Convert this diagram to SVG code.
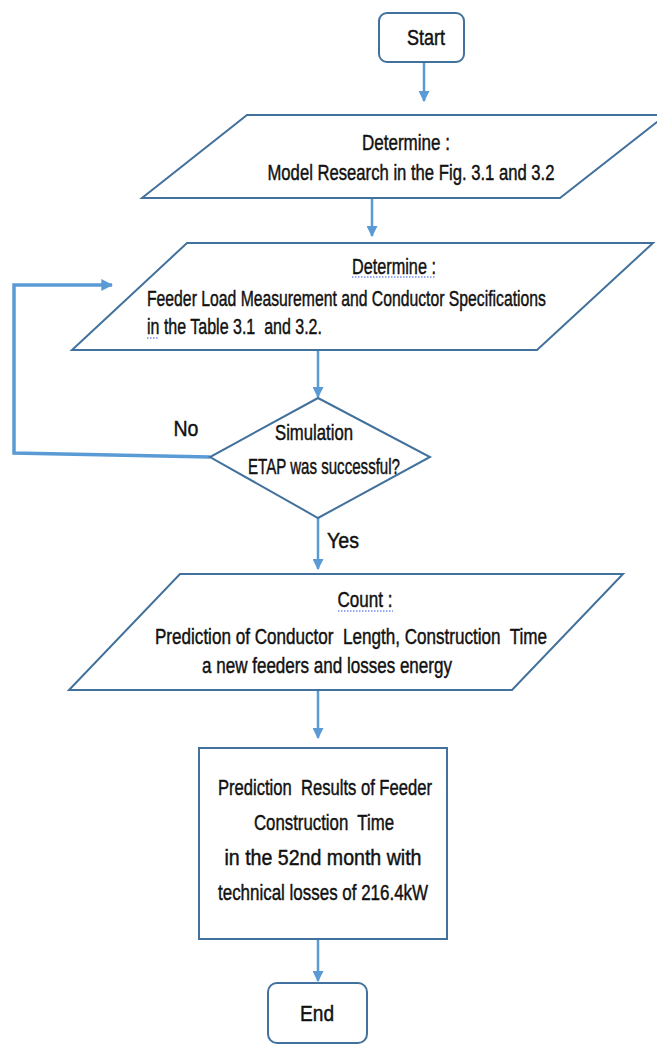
<svg xmlns="http://www.w3.org/2000/svg" width="657" height="1044" viewBox="0 0 657 1044">
<style>
.shape{fill:#fff;stroke:#41719C;stroke-width:2}
.conn{fill:none;stroke:#5B9BD5;stroke-width:2.5}
.loop{fill:none;stroke:#5B9BD5;stroke-width:3.5}
.t{font-family:"Liberation Sans",Arial,sans-serif;font-size:22px;fill:#111;stroke:#111;stroke-width:0.45;text-anchor:middle;dominant-baseline:central;white-space:pre}
.l{text-anchor:start}
.sq{fill:none;stroke:#3355ee;stroke-width:1.2;stroke-dasharray:1.5 1.5}
</style>
<defs>
<marker id="ah" viewBox="0 0 10 10" refX="9" refY="5" markerWidth="4.4" markerHeight="4.4" orient="auto" markerUnits="strokeWidth">
<path d="M0,0 L10,5 L0,10 z" fill="#5B9BD5"/>
</marker>
<marker id="ah2" viewBox="0 0 10 10" refX="9" refY="5" markerWidth="3.4" markerHeight="3.4" orient="auto" markerUnits="strokeWidth">
<path d="M0,0 L10,5 L0,10 z" fill="#5B9BD5"/>
</marker>
</defs>
<rect width="657" height="1044" fill="#fff"/>
<g id="connectors">
<line class="conn" x1="424" y1="62" x2="424" y2="101" marker-end="url(#ah)"/>
<line class="conn" x1="372" y1="199" x2="372" y2="236" marker-end="url(#ah)"/>
<line class="conn" x1="318" y1="351" x2="318" y2="397" marker-end="url(#ah)"/>
<line class="conn" x1="318" y1="518" x2="318" y2="569" marker-end="url(#ah)"/>
<line class="conn" x1="318" y1="691" x2="318" y2="738" marker-end="url(#ah)"/>
<line class="conn" x1="318" y1="940" x2="318" y2="981" marker-end="url(#ah)"/>
<path class="loop" d="M210,457 L14,453 L14,285 L112,285" marker-end="url(#ah2)"/>
<g transform="scale(0.75,1)">
<text class="t" x="248" y="428" textLength="33.3" lengthAdjust="spacingAndGlyphs" font-size="24">No</text>
<text class="t" x="457.3" y="540" textLength="42.7" lengthAdjust="spacingAndGlyphs" font-size="24">Yes</text>
</g>
</g>
<g id="start">
<rect class="shape" x="379" y="13" width="85" height="49" rx="8"/>
<g transform="scale(0.75,1)">
<text class="t" x="568" y="37" textLength="50.7" lengthAdjust="spacingAndGlyphs">Start</text>
</g>
</g>
<g id="model">
<polygon class="shape" points="247,115 666,115 560,198 142,198"/>
<g transform="scale(0.75,1)">
<text class="t" x="541.3" y="142" textLength="117.3" lengthAdjust="spacingAndGlyphs" font-size="21">Determine :</text>
<text class="t" x="548" y="172" textLength="382.7" lengthAdjust="spacingAndGlyphs" font-size="21">Model Research in the Fig. 3.1 and 3.2</text>
</g>
</g>
<g id="feeder">
<polygon class="shape" points="187,243 653,243 537,350 72,350"/>
<path class="sq" d="M352,277 L436,277"/>
<path class="sq" d="M147,338 L158,338"/>
<g transform="scale(0.75,1)">
<text class="t" x="525.3" y="266" textLength="112" lengthAdjust="spacingAndGlyphs" font-size="21">Determine :</text>
<text class="t l" x="196" y="298" textLength="532" lengthAdjust="spacingAndGlyphs" font-size="21">Feeder Load Measurement and Conductor Specifications</text>
<text class="t l" x="196" y="326" textLength="233.3" lengthAdjust="spacingAndGlyphs" font-size="21">in the Table 3.1  and 3.2.</text>
</g>
</g>
<g id="decision">
<polygon class="shape" points="318,398 430,457 318,518 210,457"/>
<g transform="scale(0.75,1)">
<text class="t" x="418.7" y="432" textLength="104" lengthAdjust="spacingAndGlyphs" font-size="20">Simulation</text>
<text class="t" x="432" y="466" textLength="202.7" lengthAdjust="spacingAndGlyphs" font-size="20">ETAP was successful?</text>
</g>
</g>
<g id="count">
<polygon class="shape" points="180,574 623,574 512,690 69,690"/>
<path class="sq" d="M338,611 L393,611"/>
<g transform="scale(0.75,1)">
<text class="t" x="486.7" y="599" textLength="73.3" lengthAdjust="spacingAndGlyphs">Count :</text>
<text class="t" x="468" y="636" textLength="522.7" lengthAdjust="spacingAndGlyphs">Prediction of Conductor  Length, Construction  Time</text>
<text class="t" x="436" y="665" textLength="333.3" lengthAdjust="spacingAndGlyphs">a new feeders and losses energy</text>
</g>
</g>
<g id="result">
<rect class="shape" x="199" y="748" width="248" height="191"/>
<g transform="scale(0.75,1)">
<text class="t" x="433.3" y="787" textLength="285.3" lengthAdjust="spacingAndGlyphs">Prediction  Results of Feeder</text>
<text class="t" x="432" y="822" textLength="186.7" lengthAdjust="spacingAndGlyphs">Construction  Time</text>
<text class="t" x="430.7" y="857" textLength="262.7" lengthAdjust="spacingAndGlyphs">in the 52nd month with</text>
<text class="t" x="430.7" y="892" textLength="280" lengthAdjust="spacingAndGlyphs">technical losses of 216.4kW</text>
</g>
</g>
<g id="end">
<rect class="shape" x="268" y="983" width="99" height="60" rx="9"/>
<g transform="scale(0.75,1)">
<text class="t" x="422.7" y="1013" textLength="45.3" lengthAdjust="spacingAndGlyphs" font-size="24">End</text>
</g>
</g>
</svg>
